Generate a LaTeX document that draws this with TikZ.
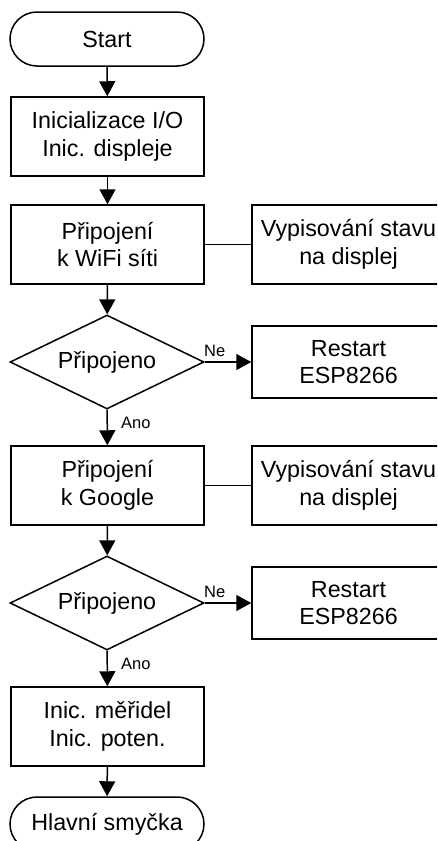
\documentclass[tikz,border=0pt]{standalone}
\usepackage{fontspec}
\setmainfont{Liberation Sans}
\usetikzlibrary{shapes.geometric,arrows.meta}
\begin{document}
\begin{tikzpicture}[x=1pt,y=-1pt,
  every node/.style={font=\fontsize{23.3}{27.5}\selectfont},
  box/.style={draw, line width=1.5pt, minimum width=193pt, minimum height=79pt, align=center, inner sep=0pt},
  rbox/.style={box, minimum height=72pt},
  term/.style={draw, line width=1.5pt, rounded corners=27pt, minimum width=194pt, minimum height=54pt, inner sep=0pt},
  dec/.style={draw, diamond, aspect=2.06, line width=1.5pt, minimum width=194pt, minimum height=94pt, inner sep=0pt},
  arr/.style={-{Triangle[width=16pt,length=15pt]}, line width=1.5pt},
  link/.style={line width=1.5pt},
  lbl/.style={font=\fontsize{16.5}{18}\selectfont, inner sep=0pt}]
\path[use as bounding box, fill=white] (0,0) rectangle (437,841);
\clip (0,0) rectangle (437,841);
\node[term] (start) at (107,39) {Start};
\node[box] (b1) at (107.5,136.5) {Inicializace I/O\\Inic. displeje};
\node[box] (b2) at (107.5,244.5) {Připojení\\k WiFi síti};
\node[box] (w1) at (348.5,244.5) {Vypisování stavu\\na displej};
\node[dec] (d1) at (107,362) {Připojeno};
\node[rbox] (r1) at (348.5,362) {Restart\\ESP8266};
\node[box] (b4) at (107.5,485.5) {Připojení\\k Google};
\node[box] (w2) at (348.5,485.5) {Vypisování stavu\\na displej};
\node[dec] (d2) at (107,603) {Připojeno};
\node[rbox] (r2) at (348.5,603) {Restart\\ESP8266};
\node[box] (b6) at (107.5,726.5) {Inic. měřidel\\Inic. poten.};
\node[term] (end) at (107,824) {Hlavní smyčka};
\draw[arr] (start) -- (b1);
\draw[arr] (b1) -- (b2);
\draw[link] (b2) -- (w1);
\draw[arr] (b2) -- (d1);
\draw[arr] (d1) -- (r1);
\draw[arr] (d1) -- (b4);
\draw[link] (b4) -- (w2);
\draw[arr] (b4) -- (d2);
\draw[arr] (d2) -- (r2);
\draw[arr] (d2) -- (b6);
\draw[arr] (b6) -- (end);
\node[lbl, anchor=base west] (ne1) at (204,356) {Ne};
\node[lbl, anchor=base west] (ano1) at (121,428) {Ano};
\node[lbl, anchor=base west] (ne2) at (204,597) {Ne};
\node[lbl, anchor=base west] (ano2) at (121,669) {Ano};
\end{tikzpicture}
\end{document}
